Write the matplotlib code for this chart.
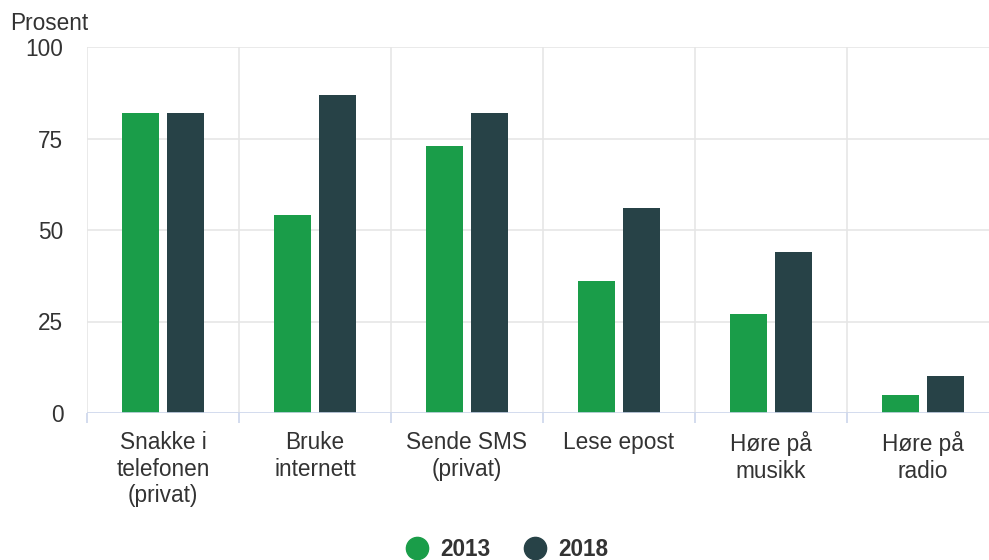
import matplotlib
matplotlib.use("Agg")
import matplotlib.pyplot as plt
import numpy as np
from matplotlib.lines import Line2D

plt.rcParams['font.family'] = ['Liberation Sans', 'DejaVu Sans']

categories = ["Snakke i\ntelefonen\n(privat)", "Bruke\ninternett", "Sende SMS\n(privat)",
              "Lese epost", "Høre på\nmusikk", "Høre på\nradio"]
series_names = ["2013", "2018"]
values_2013 = [82, 54, 73, 36, 27, 5]
values_2018 = [82, 87, 82, 56, 44, 10]
y_ticks = [0, 25, 50, 75, 100]

colors = ["#1a9d49", "#274247"]
FS = 16.3
W, H = 989, 560
fig = plt.figure(figsize=(W / 100, H / 100), dpi=100)
# plot area spans 87..999 px horizontally, 47..413 px vertically
ax = fig.add_axes([87 / W, (H - 413) / H, 912 / W, 366 / H])

x = np.arange(len(categories))
bw = 0.237
off = 0.148
ax.bar(x - off, values_2013, bw, color=colors[0], zorder=3)
ax.bar(x + off, values_2018, bw, color=colors[1], zorder=3)

ax.set_xlim(-0.5, len(categories) - 0.5)
ax.set_ylim(0, 100)

for s in ax.spines.values():
    s.set_visible(False)
ax.axhline(0, color="#ccd6eb", lw=1.2, zorder=4)
for yv in y_ticks[1:]:
    ax.axhline(yv, color="#e6e6e6", lw=1.2, zorder=1)
for b in np.arange(-0.5, len(categories), 1.0):
    ax.axvline(b, color="#e6e6e6", lw=1.2, zorder=1)

ax.set_yticks(y_ticks)
ax.set_yticklabels([str(v) for v in y_ticks], fontsize=FS, color="#333333")
ax.tick_params(axis="y", length=0, pad=17)

ax.set_xticks(x)
ax.set_xticklabels(categories, fontsize=FS, color="#333333", linespacing=1.2)
ax.tick_params(axis="x", which="major", length=0, pad=13)
ax.set_xticks(np.arange(-0.5, len(categories), 1.0), minor=True)
ax.tick_params(axis="x", which="minor", length=7.5, width=1.2, color="#ccd6eb")

fig.text(10 / W, 1 - 23 / H, "Prosent", fontsize=FS, color="#333333",
         ha="left", va="center")

handles = [Line2D([], [], marker="o", ls="none", markersize=16, color=c) for c in colors]
leg = fig.legend(handles, series_names, loc="center", bbox_to_anchor=(507 / W, 1 - 549 / H),
                 ncol=2, frameon=False, handlelength=1.0, handletextpad=0.5,
                 columnspacing=1.5, borderpad=0, borderaxespad=0,
                 prop={"size": FS, "weight": "bold"})
for t in leg.get_texts():
    t.set_color("#333333")

fig.savefig("out.png", dpi=100)
